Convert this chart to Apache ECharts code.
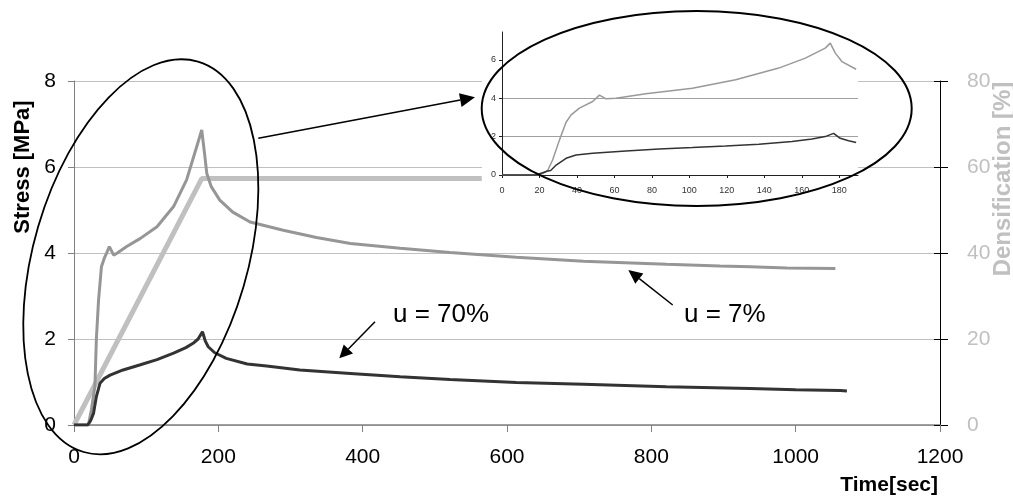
<!DOCTYPE html>
<html><head><meta charset="utf-8">
<script src="https://cdn.jsdelivr.net/npm/echarts@6/dist/echarts.min.js"></script>
<style>html,body{margin:0;padding:0;background:#fff}#c{width:1013px;height:496px}</style>
</head><body><div id="c"></div>
<script>
// ---- main chart data ----
const timeU7 = [0, 20, 24, 29, 31, 34, 38, 42, 45, 49, 51, 55, 60, 73, 92, 115, 138, 156, 170, 177, 181, 184, 190, 202, 220, 244, 290, 336, 383, 452, 521, 613, 706, 821, 895, 937, 988, 1055];
const stressU7 = [0, 0, 0.35, 0.9, 2.0, 2.9, 3.68, 3.88, 3.99, 4.15, 4.12, 3.95, 4.0, 4.15, 4.34, 4.61, 5.08, 5.70, 6.47, 6.86, 6.3, 5.85, 5.55, 5.23, 4.95, 4.72, 4.53, 4.36, 4.22, 4.11, 4.01, 3.90, 3.81, 3.74, 3.70, 3.68, 3.65, 3.64];
const timeU70 = [0, 19, 23, 27, 31, 36, 42, 50, 68, 92, 115, 138, 155, 165, 172, 178, 182, 186, 195, 211, 240, 267, 313, 383, 452, 521, 613, 706, 821, 937, 1000, 1062, 1071];
const stressU70 = [0, 0, 0.1, 0.27, 0.66, 0.97, 1.08, 1.16, 1.28, 1.40, 1.52, 1.67, 1.80, 1.90, 2.0, 2.17, 1.95, 1.82, 1.68, 1.55, 1.42, 1.37, 1.28, 1.20, 1.12, 1.06, 0.99, 0.95, 0.89, 0.85, 0.82, 0.80, 0.79];
const timeDens = [0, 177, 565];
const densification = [0, 57.3, 57.3];
const xTicks = [0, 200, 400, 600, 800, 1000, 1200];
const yTicksStress = [0, 2, 4, 6, 8];
const yTicksDens = [0, 20, 40, 60, 80];
// ---- inset data ----
const insetTime7 = [0, 19, 22, 24.5, 27, 30.7, 34.2, 36.9, 41.3, 48.4, 52, 53, 55.5, 60.8, 76.8, 101.6, 124.7, 147.7, 161.9, 172.5, 175.2, 177.9, 181.4, 189];
const insetStress7 = [0, 0, 0.08, 0.26, 0.78, 1.83, 2.75, 3.13, 3.48, 3.83, 4.16, 4.22, 3.97, 4.0, 4.23, 4.52, 4.96, 5.57, 6.09, 6.61, 6.87, 6.35, 5.91, 5.51];
const insetTime70 = [0, 18, 24.5, 26, 28.9, 34.2, 39.5, 48.4, 66.1, 83.9, 101.6, 119.3, 137.1, 154.8, 165.5, 172.5, 177, 180.5, 185, 189];
const insetStress70 = [0, 0, 0.21, 0.23, 0.52, 0.87, 1.04, 1.13, 1.25, 1.36, 1.43, 1.51, 1.60, 1.74, 1.88, 2.0, 2.17, 1.91, 1.78, 1.69];
const insetXTicks = [0, 20, 40, 60, 80, 100, 120, 140, 160, 180];
const insetYTicks = [0, 2, 4, 6];

const zip = (a, b) => a.map((v, i) => [v, b[i]]);
const FF = '"Liberation Sans", Arial, sans-serif';
const plain = v => String(v);

const chart = echarts.init(document.getElementById('c'), null, {renderer: 'canvas'});

function arrowHead(tx, ty, fx, fy, len, hw) {
  const dx = tx - fx, dy = ty - fy, L = Math.hypot(dx, dy);
  const ux = dx / L, uy = dy / L, nx = -uy, ny = ux;
  const bx = tx - len * ux, by = ty - len * uy;
  return {base: [bx, by], pts: [[tx, ty], [bx + hw * nx, by + hw * ny], [bx - hw * nx, by - hw * ny]]};
}
function arrow(fx, fy, tx, ty, len, hw, lw) {
  const h = arrowHead(tx, ty, fx, fy, len, hw);
  return [
    {type: 'line', z: 30, shape: {x1: fx, y1: fy, x2: h.base[0], y2: h.base[1]}, style: {stroke: '#000', lineWidth: lw}},
    {type: 'polygon', z: 30, shape: {points: h.pts}, style: {fill: '#000'}}
  ];
}

const option = {
  backgroundColor: '#fff',
  animation: false,
  grid: [
    {left: 74, top: 81, width: 866, height: 344},
    {left: 502, top: 32, width: 356, height: 143}
  ],
  xAxis: [
    {gridIndex: 0, type: 'value', min: 0, max: 1200, interval: 200, z: 1,
     axisLine: {lineStyle: {color: '#808080', width: 1.5}},
     axisTick: {show: true, length: 7, lineStyle: {color: '#808080'}},
     axisLabel: {color: '#000', fontSize: 21, fontFamily: FF, margin: 22, customValues: xTicks, formatter: plain},
     splitLine: {show: false}},
    {gridIndex: 1, type: 'value', min: 0, max: 190, interval: 20, z: 11,
     axisLine: {lineStyle: {color: '#222', width: 1}},
     axisTick: {show: true, length: 3, lineStyle: {color: '#222'}, customValues: insetXTicks},
     axisLabel: {color: '#333', fontSize: 9, fontFamily: FF, margin: 11, customValues: insetXTicks, formatter: plain},
     splitLine: {show: false}}
  ],
  yAxis: [
    {gridIndex: 0, type: 'value', position: 'left', min: 0, max: 8, interval: 2, z: 1,
     axisLine: {show: true, lineStyle: {color: '#808080', width: 1}},
     axisTick: {show: true, length: 6, lineStyle: {color: '#808080'}},
     axisLabel: {color: '#000', fontSize: 21, fontFamily: FF, margin: 18, customValues: yTicksStress, formatter: plain},
     splitLine: {show: true, lineStyle: {color: '#c0c0c0', width: 1}}},
    {gridIndex: 0, type: 'value', position: 'right', min: 0, max: 80, interval: 20, z: 1,
     axisLine: {show: true, lineStyle: {color: '#000', width: 1}},
     axisTick: {show: true, length: 8, lineStyle: {color: '#000'}},
     axisLabel: {color: '#c0c0c0', fontSize: 21, fontFamily: FF, margin: 27, customValues: yTicksDens, formatter: plain},
     splitLine: {show: false}},
    {gridIndex: 0, type: 'value', position: 'right', offset: 0, min: 0, max: 80, interval: 20, z: 1,
     axisLine: {show: false},
     axisTick: {show: true, inside: true, length: 6, lineStyle: {color: '#000'}},
     axisLabel: {show: false},
     splitLine: {show: false}},
    {gridIndex: 1, type: 'value', position: 'left', min: 0, max: 7.45, interval: 2, z: 11,
     axisLine: {show: true, lineStyle: {color: '#222', width: 1}},
     axisTick: {show: true, length: 3, lineStyle: {color: '#222'}, customValues: insetYTicks},
     axisLabel: {color: '#333', fontSize: 9, fontFamily: FF, margin: 6, customValues: insetYTicks, formatter: plain},
     splitLine: {show: true, showMinLine: false, showMaxLine: false, lineStyle: {color: '#a0a0a0', width: 1}}}
  ],
  series: [
    {type: 'line', name: 'Densification', xAxisIndex: 0, yAxisIndex: 1, z: 2, symbol: 'none',
     data: zip(timeDens, densification), lineStyle: {color: '#c0c0c0', width: 5}},
    {type: 'line', name: 'u = 7%', xAxisIndex: 0, yAxisIndex: 0, z: 3, symbol: 'none',
     data: zip(timeU7, stressU7), lineStyle: {color: '#969696', width: 3}},
    {type: 'line', name: 'u = 70%', xAxisIndex: 0, yAxisIndex: 0, z: 3, symbol: 'none',
     data: zip(timeU70, stressU70), lineStyle: {color: '#333333', width: 3}},
    {type: 'line', name: 'inset u = 7%', xAxisIndex: 1, yAxisIndex: 3, z: 12, symbol: 'none',
     data: zip(insetTime7, insetStress7), lineStyle: {color: '#999999', width: 1.5}},
    {type: 'line', name: 'inset u = 70%', xAxisIndex: 1, yAxisIndex: 3, z: 12, symbol: 'none',
     data: zip(insetTime70, insetStress70), lineStyle: {color: '#333333', width: 1.5}}
  ],
  graphic: [
    {type: 'rect', z: 10, shape: {x: 482, y: 22, width: 376, height: 180}, style: {fill: '#fff'}},
    {type: 'ellipse', z: 30, x: 140.8, y: 256.8, rotation: 1.286, shape: {cx: 0, cy: 0, rx: 203.4, ry: 107}, style: {fill: 'none', stroke: '#000', lineWidth: 1.8}},
    {type: 'ellipse', z: 30, x: 696.7, y: 108.5, shape: {cx: 0, cy: 0, rx: 215, ry: 97.5}, style: {fill: 'none', stroke: '#000', lineWidth: 2}},
    ...arrow(258.3, 138.3, 475, 97.3, 15, 7, 1.5),
    ...arrow(375, 321.7, 339.3, 358.3, 13, 6.5, 1.5),
    ...arrow(672.7, 305, 628.3, 270, 14, 6.5, 1.5),
    {type: 'text', z: 30, x: 393, y: 315, style: {text: 'u = 70%', fontSize: 26, fontFamily: FF, fill: '#000', align: 'left', verticalAlign: 'middle'}},
    {type: 'text', z: 30, x: 684, y: 315, style: {text: 'u = 7%', fontSize: 26, fontFamily: FF, fill: '#000', align: 'left', verticalAlign: 'middle'}},
    {type: 'text', z: 30, x: 22.5, y: 167, rotation: Math.PI / 2, style: {text: 'Stress [MPa]', fontSize: 22, fontWeight: 'bold', fontFamily: FF, fill: '#000', align: 'center', verticalAlign: 'middle'}},
    {type: 'text', z: 30, x: 1003, y: 179, rotation: Math.PI / 2, style: {text: 'Densification [%]', fontSize: 24, fontWeight: 'bold', fontFamily: FF, fill: '#c0c0c0', align: 'center', verticalAlign: 'middle'}},
    {type: 'text', z: 30, x: 938, y: 485, style: {text: 'Time[sec]', fontSize: 21, fontWeight: 'bold', fontFamily: FF, fill: '#000', align: 'right', verticalAlign: 'middle'}}
  ]
};
chart.setOption(option);
</script></body></html>
